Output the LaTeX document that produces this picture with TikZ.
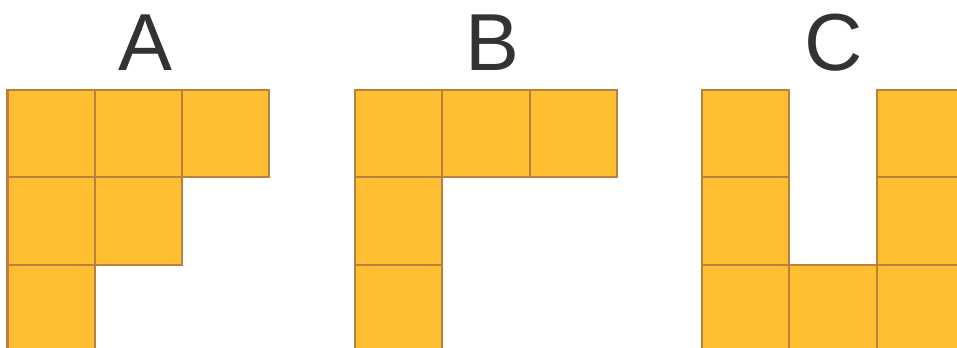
\documentclass[tikz,border=0pt]{standalone}
\usepackage{fontspec}
\setmainfont{Liberation Sans}
\usetikzlibrary{positioning}
\definecolor{cellfill}{RGB}{253,190,50}
\definecolor{cellline}{RGB}{184,130,62}
\definecolor{lettergray}{RGB}{51,51,51}
\tikzset{
  cell/.style  = {draw=cellline, fill=cellfill, line width=0.6pt,
                  minimum size=0.873cm, inner sep=0pt},
  title/.style = {font=\fontsize{23}{23}\selectfont, text=lettergray,
                  inner sep=0pt, anchor=base},
}
\begin{document}
\begin{tikzpicture}[x=0.01cm,y=-0.01cm]
  \useasboundingbox (0,0) rectangle (957,347);
  \clip (0,0) rectangle (957,347);
  % shape A
  \foreach \c/\r in {0/0,1/0,2/0,0/1,1/1,0/2}
    \node[cell] (a\c\r) at ({7.5+87.3*(\c+0.5)},{90+87.3*(\r+0.5)}) {};
  % shape B
  \foreach \c/\r in {0/0,1/0,2/0,0/1,0/2}
    \node[cell] (b\c\r) at ({355+87.3*(\c+0.5)},{90+87.3*(\r+0.5)}) {};
  % shape C
  \foreach \c/\r in {0/0,2/0,0/1,2/1,0/2,1/2,2/2}
    \node[cell] (c\c\r) at ({702+87.3*(\c+0.5)},{90+87.3*(\r+0.5)}) {};
  \node[title] (ta) at (145,70) {A};
  \node[title] (tb) at (492,70) {B};
  \node[title] (tc) at (834,70) {C};
\end{tikzpicture}
\end{document}
